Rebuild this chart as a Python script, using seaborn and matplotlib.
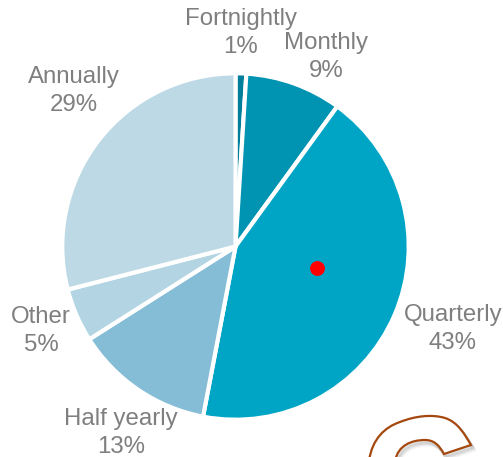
import matplotlib
matplotlib.use("Agg")
import matplotlib.pyplot as plt
from matplotlib.patches import PathPatch
from matplotlib.path import Path
from matplotlib.transforms import Affine2D
import pandas as pd
import seaborn as sns

# Payment frequency shares, clockwise from twelve o'clock
categories = ["Fortnightly", "Monthly", "Quarterly", "Half yearly", "Other", "Annually"]
shares = [1, 9, 43, 13, 5, 29]
slice_colors = ["#007E9B", "#0094B2", "#00A5C6", "#85BDD6", "#B3D5E3", "#BCD9E5"]
label_positions = [(241, 33), (326, 57), (453, 329), (121, 433), (41, 331), (74, 91)]
marker_point = pd.DataFrame({"x": [317], "y": [189]})

sns.set_theme(style="white")
plt.rcParams["font.family"] = ["Liberation Sans", "DejaVu Sans"]

fig = plt.figure(figsize=(5.03, 4.57), dpi=100)
ax = fig.add_axes([0, 0, 1, 1])

ax.pie(
    shares,
    colors=slice_colors,
    startangle=90,
    counterclock=False,
    center=(235.5, 210.5),
    radius=173.2,
    frame=True,
    wedgeprops={"edgecolor": "white", "linewidth": 3.0},
)
ax.set_xlim(0, 503)
ax.set_ylim(0, 457)
ax.set_aspect("equal")

for name, share, (x, y) in zip(categories, shares, label_positions):
    ax.text(x, 457 - y, f"{name}\n{share}%", ha="center", va="center",
            fontsize=17.3, color="#7F7F7F", linespacing=1.3)

sns.scatterplot(data=marker_point, x="x", y="y", color="#FF0000", s=115,
                linewidth=0, ax=ax, legend=False, zorder=5)
ax.axis("off")

# Curved callout shape running off the lower edge, with a soft shadow
outline = [
    (Path.MOVETO, (369, -4)),
    (Path.CURVE4, (372, 18)),
    (Path.CURVE4, (385, 30)),
    (Path.CURVE4, (400, 35)),
    (Path.CURVE4, (415, 41)),
    (Path.CURVE4, (432, 43)),
    (Path.CURVE4, (445, 39)),
    (Path.CURVE4, (458, 35)),
    (Path.CURVE4, (465, 22)),
    (Path.CURVE4, (471, 12)),
    (Path.LINETO, (444, 3)),
    (Path.CURVE4, (439, 12)),
    (Path.CURVE4, (434, 17)),
    (Path.CURVE4, (425, 17)),
    (Path.CURVE4, (412, 17)),
    (Path.CURVE4, (398, 12)),
    (Path.CURVE4, (395, -4)),
]
codes, verts = zip(*outline)
shape = Path(verts, codes)
for shift, alpha in [(5, 0.05), (4, 0.07), (3, 0.09), (2, 0.12)]:
    ax.add_patch(PathPatch(shape.transformed(Affine2D().translate(shift * 0.6, -shift)),
                           facecolor="none", edgecolor="#555555", linewidth=2.5, alpha=alpha))
ax.add_patch(PathPatch(shape, facecolor="white", edgecolor="#A5480F", linewidth=1.6))

fig.savefig("out.png", dpi=100)
